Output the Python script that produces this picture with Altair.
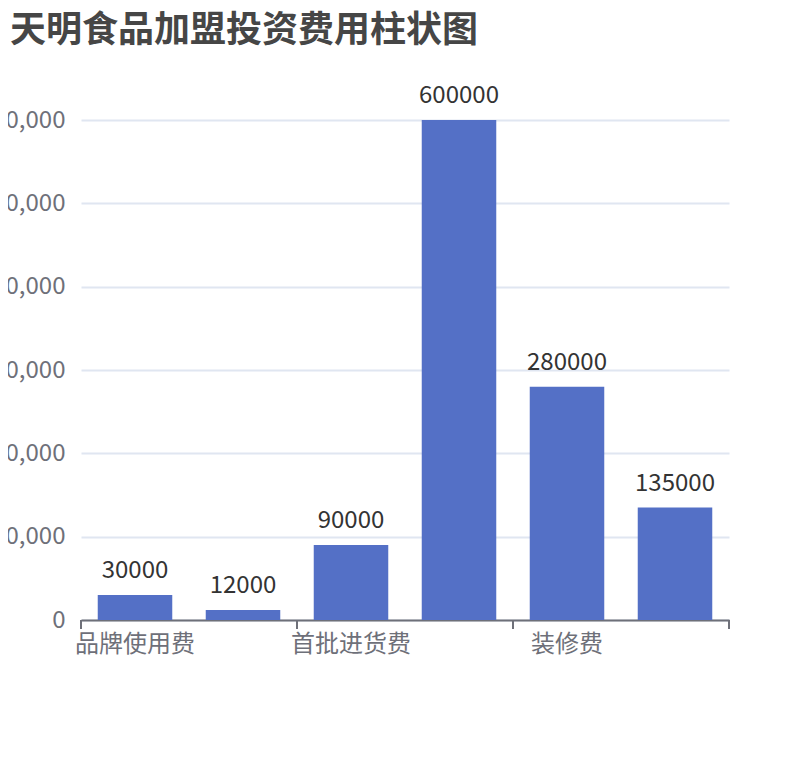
import altair as alt
import pandas as pd

# ---- data ----
categories = ["品牌使用费", "加盟保证金", "首批进货费", "店面租金", "装修费", "设备费"]
values = [30000, 12000, 90000, 600000, 280000, 135000]
shown_labels = ["品牌使用费", "首批进货费", "装修费"]
y_ticks = [0, 100000, 200000, 300000, 400000, 500000, 600000]
title_text = "天明食品加盟投资费用柱状图"

FONT = "Noto Sans CJK SC"
AXIS_GRAY = "#6E7079"
PLOT_W, PLOT_H = 648, 500
PAD_INNER = 0.31
PAD_OUTER = PAD_INNER / 2
STEP = PLOT_W / len(categories)
EDGE_SHIFT = PAD_OUTER * STEP  # distance from bar edge to category boundary

df = pd.DataFrame({"cat": categories, "val": values})
tick_left = pd.DataFrame({"cat": shown_labels})
tick_right = pd.DataFrame({"cat": [categories[-1]]})

label_list = ",".join("'" + s + "'" for s in shown_labels)
label_expr = f"indexof([{label_list}], datum.value) >= 0 ? datum.label : ''"

x_scale = alt.Scale(domain=categories, paddingInner=PAD_INNER, paddingOuter=PAD_OUTER)
y_scale = alt.Scale(domain=[0, 600000], nice=False)

x_axis = alt.Axis(
    labelAngle=0,
    labelExpr=label_expr,
    labelFont=FONT,
    labelFontSize=24,
    labelColor=AXIS_GRAY,
    labelPadding=12,
    ticks=False,
    domainColor=AXIS_GRAY,
    domainWidth=2,
    grid=False,
)
y_axis = alt.Axis(
    values=y_ticks,
    format=",.0f",
    labelFont=FONT,
    labelFontSize=24,
    labelColor=AXIS_GRAY,
    labelPadding=16,
    domain=False,
    ticks=False,
    gridColor="#E0E6F1",
    gridWidth=2,
)


def xenc(band_pos=None):
    kw = dict(sort=categories, scale=x_scale, title=None, axis=x_axis)
    if band_pos is not None:
        kw["bandPosition"] = band_pos
    return alt.X("cat:N", **kw)


y_enc = alt.Y("val:Q", scale=y_scale, title=None, axis=y_axis)

bars = alt.Chart(df).mark_bar(color="#5470C6").encode(x=xenc(), y=y_enc)

labels = alt.Chart(df).mark_text(
    baseline="alphabetic", dy=-17, fontSize=24, font=FONT, color="#333333"
).encode(x=xenc(), y=y_enc, text=alt.Text("val:Q", format="d"))

ticks_l = alt.Chart(tick_left).mark_rule(
    color=AXIS_GRAY, strokeWidth=2, xOffset=-EDGE_SHIFT
).encode(
    x=xenc(0),
    y=alt.value(PLOT_H),
    y2=alt.value(PLOT_H + 9),
)
ticks_r = alt.Chart(tick_right).mark_rule(
    color=AXIS_GRAY, strokeWidth=2, xOffset=EDGE_SHIFT
).encode(
    x=xenc(1),
    y=alt.value(PLOT_H),
    y2=alt.value(PLOT_H + 9),
)

chart = (
    alt.layer(bars, labels, ticks_l, ticks_r)
    .properties(
        width=PLOT_W,
        height=PLOT_H,
        autosize=alt.AutoSizeParams(type="none"),
        padding={"left": 73, "top": 112, "right": 70, "bottom": 130},
        title=alt.TitleParams(
            text=title_text,
            anchor="start",
            frame="group",
            dx=-71,
            dy=-30,
            fontSize=36,
            fontWeight="bold",
            font=FONT,
            color="#464646",
        ),
    )
    .configure_view(stroke=None)
)

chart.save("out.html", embed_options={"renderer": "svg", "actions": False})
